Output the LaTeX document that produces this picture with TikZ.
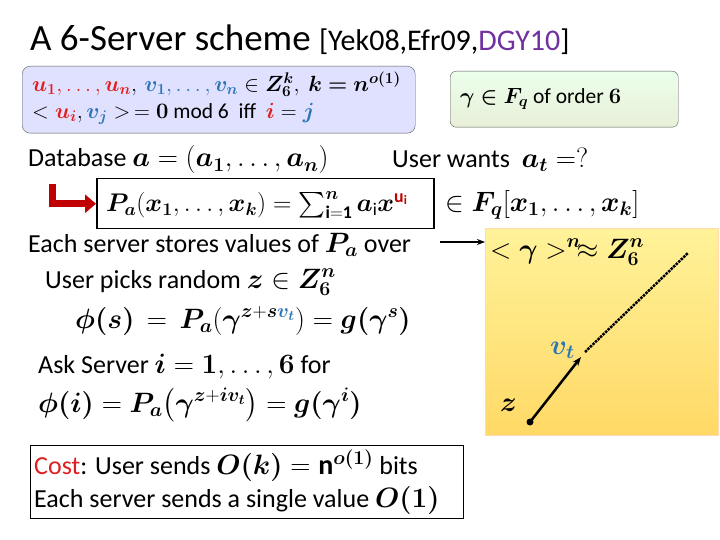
\documentclass[tikz,border=0pt]{standalone}
\usepackage{fix-cm}
\usepackage{amsmath,amssymb,bm}
\usepackage{fontspec}
\setmainfont{Carlito}
\usetikzlibrary{arrows.meta}
\definecolor{ured}{HTML}{E02020}
\definecolor{vblue}{HTML}{2E75B6}
\definecolor{dgy}{HTML}{7030A0}
\definecolor{darkred}{HTML}{C00000}
\newcommand\mm[1]{{\fontsize{28}{30}\selectfont$#1$}}
\newcommand\mpoly[1]{{\fontsize{25.5}{28}\selectfont$#1$}}
\newcommand\mb[1]{{\fontsize{22}{24}\selectfont$#1$}}
\begin{document}
\begin{tikzpicture}[x=1pt,y=-1pt,
  txt/.style={anchor=west,inner sep=0pt,font=\fontsize{26}{29}\selectfont},
  btxt/.style={anchor=west,inner sep=0pt,font=\fontsize{21.5}{24}\selectfont}]
\useasboundingbox (0,0) rectangle (720,540);
\fill[white] (0,0) rectangle (720,540);
\node[anchor=west,inner sep=0pt] (title) at (30,40) {\fontsize{37}{40}\selectfont A 6-Server scheme \fontsize{30}{32}\selectfont [Yek08,Efr09,\textcolor{dgy}{DGY10}]};
% blue box
\node[draw=gray!70!black,fill=blue!12,rounded corners=8pt,minimum width=393pt,minimum height=67pt,anchor=north west] (bbox) at (22,66) {};
\node[btxt] (b1) at (32,84) {\mb{\textcolor{ured}{\bm{u_1},\ldots,\bm{u_n}},\,\textcolor{vblue}{\bm{v_1},\ldots,\bm{v_n}}\in \bm{Z_6^k},\ \bm{k=n^{o(1)}}}};
\node[btxt] (b2) at (32,114) {\mb{<\textcolor{ured}{\bm{u_i}},\textcolor{vblue}{\bm{v_j}}>\,=\bm{0}} mod 6\ \ iff\ \ \mb{\textcolor{ured}{\bm i}=\textcolor{vblue}{\bm j}}};
% green box
\node[draw=gray!70!black,top color=green!8,bottom color=green!18!olive!15,rounded corners=6pt,minimum width=228pt,minimum height=56pt,anchor=north west] (gbox) at (450,71) {};
\node[btxt] (g1) at (460,99) {\mb{\bm{\gamma\in F_q}} of order \mb{\bm 6}};
% database
\node[txt] (db) at (28,160) {Database \mm{\bm{a}=(\bm{a_1},\ldots,\bm{a_n})}};
\node[txt] (uw) at (392,160) {User wants\ \ \mm{\bm{a_t}=?}};
% poly box
\node[draw,line width=1.5pt,minimum width=337pt,minimum height=50pt,anchor=north west] (pbox) at (96,178) {};
\node[txt] (poly) at (106,205) {\mpoly{\bm{P_a}(\bm{x_1},\ldots,\bm{x_k})=\sum_{\mathbf{i=1}}^{\bm n}\bm{a}_{\mathrm i}\bm{x}^{\textcolor{darkred}{\mathbf{u_i}}}}};
\node[txt] (fq) at (445,205) {\mm{\in \bm{F_q}[\bm{x_1},\ldots,\bm{x_k}]}};
\coordinate (lt) at (52,184);
\draw[darkred,line width=7pt,-{Triangle[length=11pt,width=18pt]}] (lt) |- (pbox.west);
% each server
\node[txt] (es) at (28,245) {Each server stores values of \mm{\bm{P_a}} over};
% orange
\node[top color=orange!25!yellow!40,bottom color=orange!50!yellow!60,draw=orange!30,minimum width=233pt,minimum height=207pt,anchor=north west] (obox) at (485,228) {};
\coordinate (ea) at (440,242);
\draw[line width=1.3pt,-{Stealth[length=8pt]}] (ea) -- (obox.north west |- ea);
\node[txt] (gn) at (490,252) {\mm{<\bm\gamma>^{\bm n}\!\approx \bm{Z_6^n}}};
\coordinate (zp) at (530,422);
\coordinate (vp) at (581,357);
\coordinate (dstart) at (585,352);
\coordinate (dend) at (688,253);
\fill (zp) circle (3.5pt);
\draw[line width=2.5pt,-{Stealth[length=9pt]}] (zp) -- (vp);
\draw[line width=2.5pt,densely dotted] (dstart) -- (dend);
\node[txt,text=vblue] (vt) at (550,350) {\mm{\bm{v_t}}};
\node[txt] (zl) at (500,405) {\mm{\bm{z}}};
% user picks
\node[txt] (up) at (45,282) {User picks random \mm{\bm{z}\in\bm{Z_6^n}}};
\node[txt] (phis) at (75,321) {\mm{\bm{\phi(s)}\,=\,\bm{P_a}\!\left(\bm{\gamma}^{\bm{z}+\bm{s}\textcolor{vblue}{\bm{v_t}}}\right)=\bm{g(\gamma^s)}}};
\node[txt] (ask) at (38,367) {Ask Server \mm{\bm{i}=\bm 1,\ldots,\bm 6} for};
\node[txt] (phii) at (38,405) {\mm{\bm{\phi(i)}=\bm{P_a}\!\left(\bm{\gamma}^{\bm{z}+\bm{i}\bm{v_t}}\right)=\bm{g(\gamma^i)}}};
% cost
\node[draw,line width=0.8pt,minimum width=433pt,minimum height=73pt,anchor=north west] (cbox) at (30,445) {};
\node[txt] (c1) at (34,466) {\textcolor{ured}{Cost}: User sends \mm{\bm{O(k)}=\mathbf{n}^{\bm{o(1)}}} bits};
\node[txt] (c2) at (34,500) {Each server sends a single value \mm{\bm{O(1)}}};
\end{tikzpicture}
\end{document}
